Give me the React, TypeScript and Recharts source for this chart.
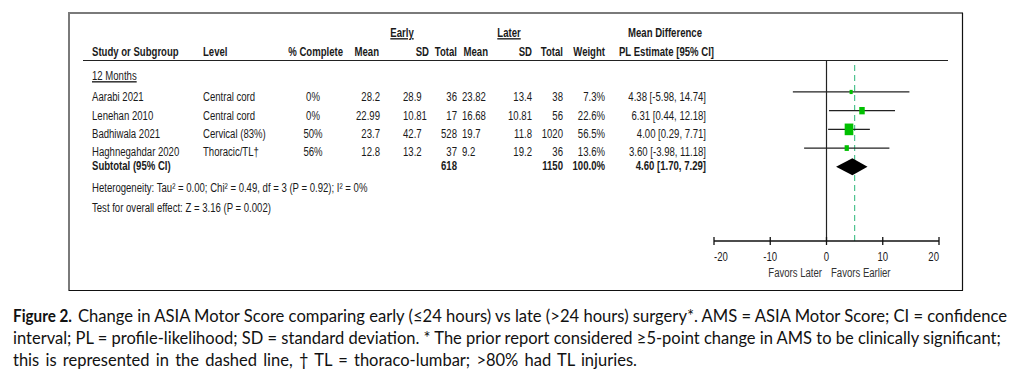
import React from "react";
import {
  ScatterChart,
  Scatter,
  XAxis,
  YAxis,
  ReferenceLine,
  ReferenceArea,
} from "recharts";

// study rows
const studies = ["Aarabi 2021", "Lenehan 2010", "Badhiwala 2021", "Haghnegahdar 2020"];
const levels = ["Central cord", "Central cord", "Cervical (83%)", "Thoracic/TL†"];
const pctComplete = ["0%", "0%", "50%", "56%"];
const earlyMean = [28.2, 22.99, 23.7, 12.8];
const earlySD = [28.9, 10.81, 42.7, 13.2];
const earlyTotal = [36, 17, 528, 37];
const laterMean = [23.82, 16.68, 19.7, 9.2];
const laterSD = [13.4, 10.81, 11.8, 19.2];
const laterTotal = [38, 56, 1020, 36];
const weights = [7.3, 22.6, 56.5, 13.6];
const estimates = [4.38, 6.31, 4.0, 3.6];
const ciLow = [-5.98, 0.44, 0.29, -3.98];
const ciHigh = [14.74, 12.18, 7.71, 11.18];

// pooled
const subtotalEarly = 618;
const subtotalLater = 1150;
const subtotalWeight = 100.0;
const pooledEst = 4.6;
const pooledLow = 1.7;
const pooledHigh = 7.29;

const xTicks = [-20, -10, 0, 10, 20];
const clinicalThreshold = 5;

const heterogeneityText =
  "Heterogeneity: Tau² = 0.00; Chi² = 0.49, df = 3 (P = 0.92); I² = 0%";
const overallText = "Test for overall effect: Z = 3.16 (P = 0.002)";

const rows = studies.map((name, i) => ({
  name,
  row: i,
  est: estimates[i],
  lo: ciLow[i],
  hi: ciHigh[i],
  weight: weights[i],
}));
const pooledRow = studies.length;

const NARROW = "'Liberation Sans', Arial, sans-serif";
const INK = "#1a1a1a";

function NT({
  x,
  y,
  children,
  anchor = "start",
  bold = false,
  underline = false,
  size = 13.5,
  fill = INK,
}: {
  x: number;
  y: number;
  children: React.ReactNode;
  anchor?: "start" | "middle" | "end";
  bold?: boolean;
  underline?: boolean;
  size?: number;
  fill?: string;
}) {
  return (
    <text
      transform={`translate(${x},${y}) scale(0.71,1)`}
      textAnchor={anchor}
      fontSize={size}
      fontWeight={bold ? 700 : 400}
      fontFamily={NARROW}
      fill={fill}
      style={underline ? { textDecoration: "underline" } : undefined}
    >
      {children}
    </text>
  );
}

function AxisTick(props: any) {
  const { x, y, payload, index } = props;
  const last = xTicks.length - 1;
  const anchor = index === 0 ? "start" : index === last ? "end" : "middle";
  return (
    <g>
      <line x1={x} x2={x} y1={y - 4} y2={y + 4} stroke="#111" strokeWidth={1.3} />
      <NT x={x} y={y + 20} anchor={anchor}>
        {payload.value}
      </NT>
    </g>
  );
}

function WeightSquare(props: any) {
  const { cx, cy, payload } = props;
  const s = Math.sqrt(payload.weight);
  const w = 1.15 * s;
  const h = 1.55 * s;
  return <rect x={cx - w / 2} y={cy - h / 2} width={w} height={h} fill="#00c000" />;
}

function Diamond(props: any) {
  const { x, y, width, height } = props;
  const tip = x + (width * (pooledEst - pooledLow)) / (pooledHigh - pooledLow);
  const mid = y + height / 2;
  const pts = `${x},${mid} ${tip},${y} ${x + width},${mid} ${tip},${y + height}`;
  return <polygon points={pts} fill="#000" />;
}

const rowBaselines = [101, 119.5, 138, 156];
const subtotalBaseline = 170;

export default function App() {
  return (
    <div
      style={{
        position: "absolute",
        left: 0,
        top: 0,
        width: 1025,
        height: 381,
        background: "#fff",
      }}
    >
      <div style={{ position: "absolute", left: 0, top: 0 }}>
        <ScatterChart
          width={1025}
          height={381}
          margin={{ top: 60, right: 86, left: 714, bottom: 0 }}
        >
          <XAxis
            type="number"
            dataKey="est"
            domain={[-20, 20]}
            ticks={xTicks}
            interval={0}
            height={140}
            axisLine={{ stroke: "#111", strokeWidth: 1.3 }}
            tickLine={false}
            tickSize={0}
            tickMargin={0}
            tick={<AxisTick />}
            allowDataOverflow
          />
          <YAxis
            type="number"
            dataKey="row"
            hide
            reversed
            domain={[-1.71, 7.97]}
            allowDataOverflow
          />
          <ReferenceLine x={0} stroke="#222" strokeWidth={1.2} />
          <ReferenceLine
            x={clinicalThreshold}
            stroke="#4cc28e"
            strokeWidth={1.2}
            strokeDasharray="6 4"
          />
          {rows.map((r) => (
            <ReferenceLine
              key={r.name}
              segment={[
                { x: r.lo, y: r.row },
                { x: r.hi, y: r.row },
              ]}
              stroke="#222"
              strokeWidth={1.3}
            />
          ))}
          <Scatter data={rows} shape={WeightSquare} isAnimationActive={false} />
          <ReferenceArea
            x1={pooledLow}
            x2={pooledHigh}
            y1={pooledRow - 0.45}
            y2={pooledRow + 0.45}
            zIndex={1200}
            shape={(p: any) => <Diamond {...p} />}
          />
        </ScatterChart>
      </div>

      <svg
        width={1025}
        height={381}
        style={{ position: "absolute", left: 0, top: 0, pointerEvents: "none" }}
      >
        {/* frame */}
        <line x1={69} y1={13} x2={963} y2={13} stroke="#7a7a7a" strokeWidth={2} />
        <line x1={69} y1={12} x2={69} y2={291} stroke="#7a7a7a" strokeWidth={2} />
        <line x1={962.5} y1={13} x2={962.5} y2={290.5} stroke="#111" strokeWidth={1.2} />
        <line x1={69} y1={290.5} x2={963} y2={290.5} stroke="#111" strokeWidth={1.2} />

        {/* headers */}
        <NT x={402} y={37} anchor="middle" bold underline>Early</NT>
        <NT x={509} y={37} anchor="middle" bold underline>Later</NT>
        <NT x={665} y={37} anchor="middle" bold>Mean Difference</NT>

        <NT x={92} y={56} bold>Study or Subgroup</NT>
        <NT x={203} y={56} bold>Level</NT>
        <NT x={343} y={56} anchor="end" bold>% Complete</NT>
        <NT x={379} y={56} anchor="end" bold>Mean</NT>
        <NT x={429} y={56} anchor="end" bold>SD</NT>
        <NT x={457} y={56} anchor="end" bold>Total</NT>
        <NT x={488} y={56} anchor="end" bold>Mean</NT>
        <NT x={532} y={56} anchor="end" bold>SD</NT>
        <NT x={563} y={56} anchor="end" bold>Total</NT>
        <NT x={605} y={56} anchor="end" bold>Weight</NT>
        <NT x={714} y={56} anchor="end" bold>PL Estimate [95% CI]</NT>

        <line x1={83} y1={60.5} x2={948} y2={60.5} stroke="#222" strokeWidth={1.2} />

        <NT x={92} y={80} underline>12 Months</NT>

        {studies.map((s, i) => {
          const y = rowBaselines[i];
          return (
            <g key={s}>
              <NT x={92} y={y}>{s}</NT>
              <NT x={203} y={y}>{levels[i]}</NT>
              <NT x={313} y={y} anchor="middle">{pctComplete[i]}</NT>
              <NT x={380} y={y} anchor="end">{earlyMean[i]}</NT>
              <NT x={403} y={y}>{earlySD[i]}</NT>
              <NT x={457} y={y} anchor="end">{earlyTotal[i]}</NT>
              <NT x={462} y={y}>{laterMean[i]}</NT>
              <NT x={532} y={y} anchor="end">{laterSD[i]}</NT>
              <NT x={563} y={y} anchor="end">{laterTotal[i]}</NT>
              <NT x={605} y={y} anchor="end">{weights[i].toFixed(1)}%</NT>
              <NT x={706} y={y} anchor="end">
                {`${estimates[i].toFixed(2)} [${ciLow[i].toFixed(2)}, ${ciHigh[i].toFixed(2)}]`}
              </NT>
            </g>
          );
        })}

        <NT x={92} y={subtotalBaseline} bold>Subtotal (95% CI)</NT>
        <NT x={457} y={subtotalBaseline} anchor="end" bold>{subtotalEarly}</NT>
        <NT x={563} y={subtotalBaseline} anchor="end" bold>{subtotalLater}</NT>
        <NT x={605} y={subtotalBaseline} anchor="end" bold>{subtotalWeight.toFixed(1)}%</NT>
        <NT x={706} y={subtotalBaseline} anchor="end" bold>
          {`${pooledEst.toFixed(2)} [${pooledLow.toFixed(2)}, ${pooledHigh.toFixed(2)}]`}
        </NT>

        <NT x={92} y={192}>{heterogeneityText}</NT>
        <NT x={92} y={212}>{overallText}</NT>

        <NT x={822} y={277} anchor="end" fill="#333">Favors Later</NT>
        <NT x={831} y={277} fill="#333">Favors Earlier</NT>

        {/* caption */}
        <g fontFamily="Lato, 'Open Sans', sans-serif" fontSize={16.5} fill="#111">
          <text x={13} y={322} fontWeight={700} textLength={59} lengthAdjust="spacingAndGlyphs">
            Figure 2.
          </text>
          <text x={78} y={322} textLength={929} lengthAdjust="spacingAndGlyphs">
            Change in ASIA Motor Score comparing early (≤24 hours) vs late (&gt;24 hours) surgery*. AMS = ASIA Motor Score; CI = confidence
          </text>
          <text x={13} y={344}>
            interval; PL = profile-likelihood; SD = standard deviation. * The prior report considered ≥5-point change in AMS to be clinically significant;
          </text>
          <text x={13} y={366} wordSpacing={2}>
            this is represented in the dashed line, † TL = thoraco-lumbar; &gt;80% had TL injuries.
          </text>
        </g>
      </svg>
    </div>
  );
}
